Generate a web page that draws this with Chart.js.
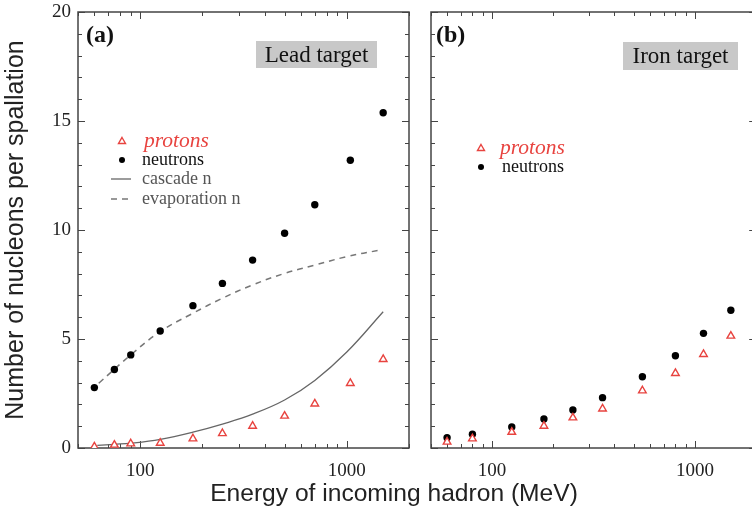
<!DOCTYPE html>
<html>
<head>
<meta charset="utf-8">
<script src="https://cdn.jsdelivr.net/npm/chart.js@4/dist/chart.umd.min.js"></script>
<style>
  html, body { margin: 0; padding: 0; background: #fff; overflow: hidden; }
  #wrap { position: relative; width: 752px; height: 512px; overflow: hidden; }
  #leadCanvas { position: absolute; left: 0; top: 0; }
  #ironCanvas { position: absolute; left: 420px; top: 0; }
  #xTitle {
    position: absolute; left: 0; width: 788px; top: 479px;
    text-align: center; color: #222;
    font: 24.6px "Liberation Sans", Arial, sans-serif;
  }
</style>
</head>
<body>
<div id="wrap">
  <canvas id="leadCanvas" width="420" height="512"></canvas>
  <canvas id="ironCanvas" width="342" height="512"></canvas>
  <div id="xTitle">Energy of incoming hadron (MeV)</div>
</div>
<script>
// values (energy in MeV, nucleons per spallation)
const leadEnergy = [60, 75, 90, 125, 180, 250, 350, 500, 700, 1040, 1500];
const leadNeutrons = [2.77, 3.6, 4.27, 5.37, 6.53, 7.55, 8.62, 9.85, 11.16, 13.2, 15.38];
const leadProtons = [0.06, 0.14, 0.2, 0.23, 0.43, 0.67, 1.01, 1.47, 2.03, 2.97, 4.07];

const cascadeEnergy = [62, 75, 90, 125, 180, 250, 350, 500, 700, 1000, 1500];
const cascadeN = [0.12, 0.17, 0.22, 0.4, 0.73, 1.1, 1.55, 2.2, 3.1, 4.4, 6.25];

const evapEnergy = [63, 90, 125, 180, 250, 350, 500, 700, 1000, 1450];
const evapN = [2.97, 4.27, 5.34, 6.18, 6.87, 7.48, 8.01, 8.39, 8.78, 9.08];

const ironEnergy = [60, 80, 125, 180, 250, 350, 550, 800, 1100, 1500];
const ironNeutrons = [0.47, 0.63, 0.96, 1.33, 1.74, 2.31, 3.27, 4.23, 5.26, 6.32];
const ironProtons = [0.28, 0.43, 0.73, 1.01, 1.39, 1.8, 2.63, 3.43, 4.3, 5.14];

const xLabels = [100, 1000];
const yLabels = [0, 5, 10, 15, 20];

const RED = '#e8433f';
const SERIF = '"Liberation Serif", "Times New Roman", serif';
const SANS = '"Liberation Sans", Arial, sans-serif';

const pts = (xs, ys) => xs.map((x, i) => ({ x, y: ys[i] }));

// inward tick marks + frame, like the original plot
const framePlugin = {
  id: 'frame',
  beforeDatasetsDraw(chart) {
    const { ctx, chartArea: a, scales: { x, y } } = chart;
    ctx.save();
    ctx.strokeStyle = '#444';
    ctx.lineWidth = 1;
    ctx.beginPath();
    for (let d = 10; d <= 1000; d *= 10) {
      for (let k = 1; k <= 9; k++) {
        const v = d * k;
        if (v < x.min || v > x.max) continue;
        const px = Math.round(x.getPixelForValue(v)) + 0.5;
        const len = xLabels.includes(v) ? 7 : 4;
        ctx.moveTo(px, a.bottom); ctx.lineTo(px, a.bottom - len);
        ctx.moveTo(px, a.top); ctx.lineTo(px, a.top + len);
      }
    }
    for (let v = y.min; v <= y.max; v++) {
      const py = Math.round(y.getPixelForValue(v)) + 0.5;
      const len = yLabels.includes(v) ? 7 : 4;
      ctx.moveTo(a.left, py); ctx.lineTo(a.left + len, py);
      ctx.moveTo(a.right, py); ctx.lineTo(a.right - len, py);
    }
    ctx.stroke();
    ctx.lineWidth = 1.5;
    ctx.strokeRect(a.left, a.top, a.right - a.left, a.bottom - a.top);
    ctx.restore();
  }
};

// panel tag, target box and hand-placed legend
const decorPlugin = {
  id: 'decor',
  afterDatasetsDraw(chart, args, o) {
    const ctx = chart.ctx;
    ctx.save();
    ctx.textBaseline = 'middle';
    ctx.fillStyle = '#111';
    ctx.font = 'bold 24px ' + SERIF;
    ctx.fillText(o.tag, o.tagX, 36);

    ctx.fillStyle = '#c8c8c8';
    ctx.fillRect(o.box[0], o.box[1], o.box[2], o.box[3]);
    ctx.fillStyle = '#111';
    ctx.font = '23px ' + SERIF;
    ctx.textAlign = 'center';
    ctx.fillText(o.target, o.box[0] + o.box[2] / 2, o.box[1] + o.box[3] / 2 + 1);
    ctx.textAlign = 'left';

    o.legend.forEach((it, i) => {
      const ds = chart.data.datasets[i];
      const sx = o.symX, y = o.rows[i];
      if (it.kind === 'tri') {
        ctx.strokeStyle = RED; ctx.lineWidth = 1.4; ctx.fillStyle = '#fff';
        ctx.beginPath();
        ctx.moveTo(sx, y - 3.5); ctx.lineTo(sx + 3.5, y + 2.5); ctx.lineTo(sx - 3.5, y + 2.5);
        ctx.closePath(); ctx.fill(); ctx.stroke();
      } else if (it.kind === 'dot') {
        ctx.fillStyle = '#000';
        ctx.beginPath(); ctx.arc(sx, y, 3, 0, Math.PI * 2); ctx.fill();
      } else {
        ctx.strokeStyle = ds.borderColor; ctx.lineWidth = 1.3;
        ctx.setLineDash(ds.borderDash || []);
        ctx.beginPath(); ctx.moveTo(sx - 11, y); ctx.lineTo(sx + 9, y); ctx.stroke();
        ctx.setLineDash([]);
      }
      ctx.fillStyle = it.color;
      ctx.font = it.font;
      ctx.fillText(ds.label, it.textX, y);
    });
    ctx.restore();
  }
};

function xScale() {
  return {
    type: 'logarithmic',
    min: 50,
    max: 2000,
    grid: { display: false, drawTicks: false },
    border: { display: false },
    afterBuildTicks: s => { s.ticks = xLabels.map(v => ({ value: v })); },
    afterFit: s => { s.height = 64; s.paddingLeft = 0; s.paddingRight = 0; },
    ticks: {
      padding: 12,
      color: '#222',
      font: { family: SERIF, size: 19 },
      maxRotation: 0,
      callback: v => String(v),
    },
  };
}

function yScale(showLabels, width) {
  return {
    min: 0,
    max: 20,
    grid: { display: false, drawTicks: false },
    border: { display: false },
    afterBuildTicks: s => { s.ticks = yLabels.map(v => ({ value: v })); },
    afterFit: s => { s.width = width; s.paddingTop = 0; s.paddingBottom = 0; },
    ticks: {
      display: showLabels,
      padding: 7,
      color: '#222',
      font: { family: SERIF, size: 19 },
    },
    title: {
      display: showLabels,
      text: 'Number of nucleons per spallation',
      color: '#222',
      padding: { top: 1, bottom: 0 },
      font: { family: SANS, size: 25 },
    },
  };
}

const dotSet = (label, data) => ({
  label, data,
  pointStyle: 'circle', pointRadius: 3.7, pointHoverRadius: 3.7,
  backgroundColor: '#000', borderColor: '#000', borderWidth: 0,
});
const triSet = (label, data) => ({
  label, data,
  pointStyle: 'triangle', pointRadius: 4.4, pointHoverRadius: 4.4,
  backgroundColor: '#fff', borderColor: RED, borderWidth: 1.4,
});

Chart.defaults.animation = false;

new Chart(document.getElementById('leadCanvas'), {
  type: 'scatter',
  data: {
    datasets: [
      triSet('protons', pts(leadEnergy, leadProtons)),
      dotSet('neutrons', pts(leadEnergy, leadNeutrons)),
      {
        label: 'cascade n', data: pts(cascadeEnergy, cascadeN),
        showLine: true, pointRadius: 0, borderColor: '#666', borderWidth: 1.3,
        tension: 0.4,
      },
      {
        label: 'evaporation n', data: pts(evapEnergy, evapN),
        showLine: true, pointRadius: 0, borderColor: '#777', borderWidth: 1.5,
        borderDash: [6, 5], tension: 0.4,
      },
    ],
  },
  options: {
    responsive: false,
    layout: { padding: { left: 0, top: 12, right: 11, bottom: 0 } },
    scales: { x: xScale(), y: yScale(true, 78) },
    plugins: {
      legend: { display: false },
      tooltip: { enabled: false },
      decor: {
        tag: '(a)', tagX: 86, target: 'Lead target', box: [256, 41, 121, 27],
        symX: 122, rows: [141, 160, 179, 199],
        legend: [
          { kind: 'tri', textX: 144, color: RED, font: 'italic 21.5px ' + SERIF },
          { kind: 'dot', textX: 142, color: '#111', font: '18px ' + SERIF },
          { kind: 'line', textX: 142, color: '#555', font: '18px ' + SERIF },
          { kind: 'line', textX: 142, color: '#555', font: '18px ' + SERIF },
        ],
      },
    },
  },
  plugins: [framePlugin, decorPlugin],
});

new Chart(document.getElementById('ironCanvas'), {
  type: 'scatter',
  data: {
    datasets: [
      triSet('protons', pts(ironEnergy, ironProtons)),
      dotSet('neutrons', pts(ironEnergy, ironNeutrons)),
    ],
  },
  options: {
    responsive: false,
    layout: { padding: { left: 0, top: 12, right: 1, bottom: 0 } },
    scales: { x: xScale(), y: yScale(false, 11) },
    plugins: {
      legend: { display: false },
      tooltip: { enabled: false },
      decor: {
        tag: '(b)', tagX: 16, target: 'Iron target', box: [203, 42, 115, 28],
        symX: 61, rows: [148, 167],
        legend: [
          { kind: 'tri', textX: 80, color: RED, font: 'italic 21.5px ' + SERIF },
          { kind: 'dot', textX: 82, color: '#111', font: '18px ' + SERIF },
        ],
      },
    },
  },
  plugins: [framePlugin, decorPlugin],
});
</script>
</body>
</html>
